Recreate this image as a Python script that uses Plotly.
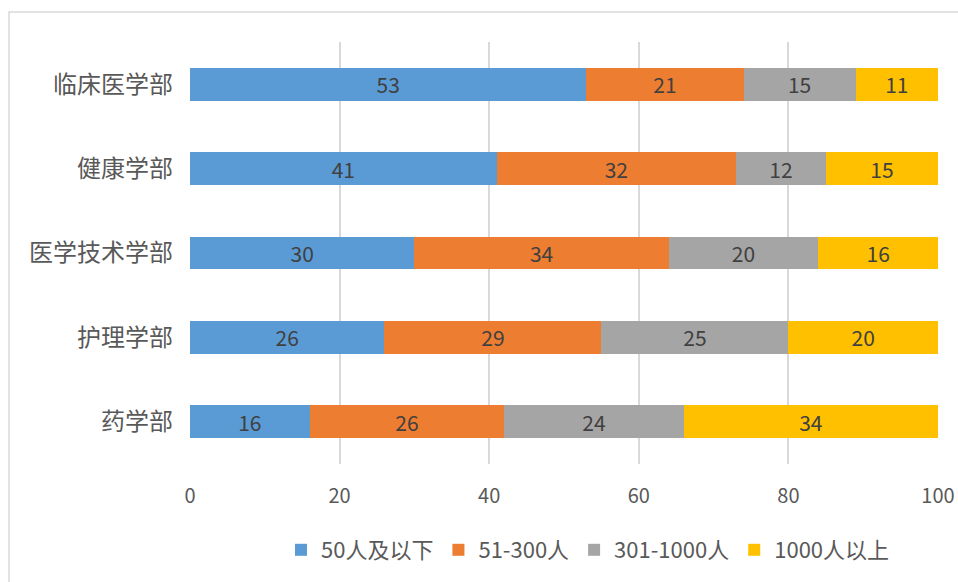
import plotly.graph_objects as go

categories = ["药学部", "护理学部", "医学技术学部", "健康学部", "临床医学部"]
series_names = ["50人及以下", "51-300人", "301-1000人", "1000人以上"]
s1 = [16, 26, 30, 41, 53]
s2 = [26, 29, 34, 32, 21]
s3 = [24, 25, 20, 12, 15]
s4 = [34, 20, 16, 15, 11]
colors = ["#5B9BD5", "#ED7D31", "#A5A5A5", "#FFC000"]

FONT = "Noto Sans CJK SC, Noto Sans, sans-serif"

fig = go.Figure()
for name, vals, col in zip(series_names, [s1, s2, s3, s4], colors):
    fig.add_trace(go.Bar(
        y=categories, x=vals, name=name, orientation="h",
        marker=dict(color=col, line=dict(width=0)),
        text=[str(v) for v in vals], textposition="inside", textangle=0,
        insidetextanchor="middle",
        textfont=dict(color="#404040", size=21, family=FONT),
        constraintext="none",
    ))

W, H = 958, 582
L, R, T = 190, 20, 42
B = H - 464
pw, ph = W - L - R, H - T - B

def px_x(x):
    return (x - L) / pw

def px_y(y):
    return (H - B - y) / ph

fig.update_layout(
    width=W, height=H,
    barmode="stack", bargap=0.61,
    margin=dict(l=L, r=R, t=T, b=B, pad=0, autoexpand=False),
    paper_bgcolor="white", plot_bgcolor="white",
    font=dict(family=FONT, color="#595959"),
    xaxis=dict(range=[0, 100], dtick=20, showgrid=True, gridcolor="#D9D9D9",
               gridwidth=1.5, zeroline=False, showline=False,
               tickfont=dict(size=20, color="#595959"), ticklabelstandoff=18),
    yaxis=dict(showgrid=False, showline=False, zeroline=False,
               tickfont=dict(size=24, color="#595959"), ticklabelstandoff=16),
    legend=dict(orientation="h", x=px_x(588), xanchor="center",
                y=px_y(550), yanchor="middle",
                font=dict(size=22, color="#595959"), traceorder="normal",
                itemwidth=30, tracegroupgap=0),
    showlegend=True,
    shapes=[dict(type="rect", xref="paper", yref="paper",
                 x0=px_x(9), x1=px_x(990),
                 y0=px_y(640), y1=px_y(12),
                 line=dict(color="#D9D9D9", width=1.5), fillcolor="rgba(0,0,0,0)",
                 layer="below")],
)

fig.write_html(
    "out.html",
    config={"displayModeBar": False},
    post_script="document.body.style.margin='0';document.body.style.overflow='hidden';",
)
